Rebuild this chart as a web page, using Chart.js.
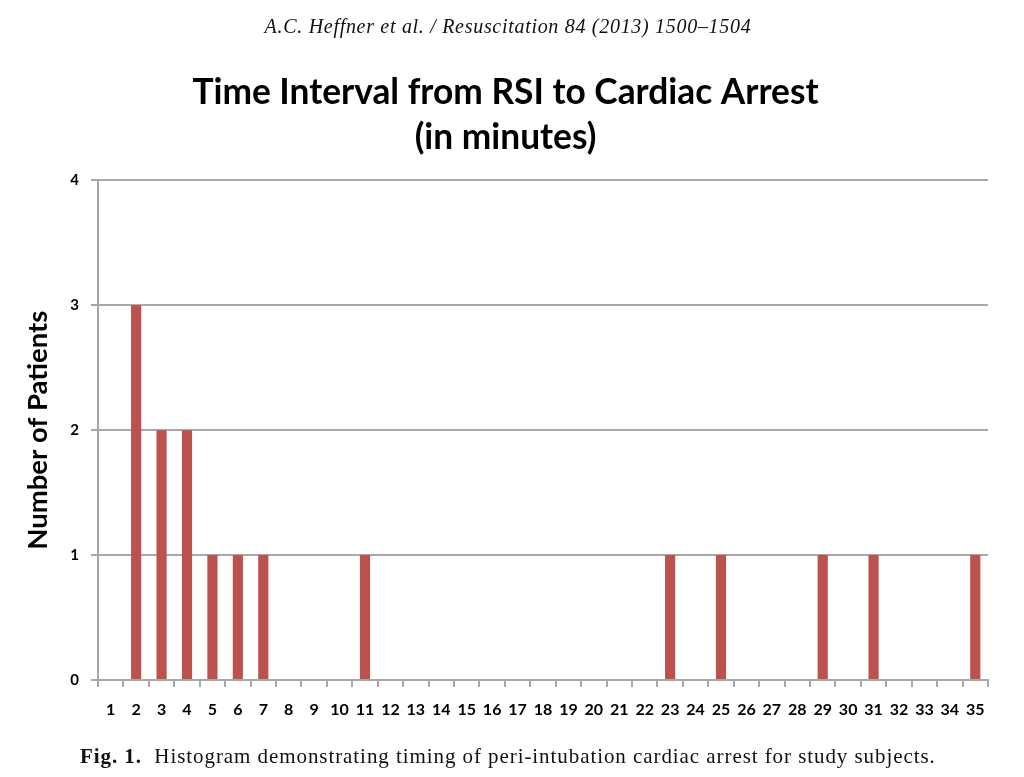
<!DOCTYPE html>
<html>
<head>
<meta charset="utf-8">
<script src="https://cdn.jsdelivr.net/npm/chart.js@4/dist/chart.umd.min.js"></script>
<style>
  body { margin: 0; background: #fff; }
  #wrap { position: relative; width: 1024px; height: 777px; }
  #grafico { position: absolute; left: 0; top: 0; }
  .cabecalho { position: absolute; left: -4px; width: 1024px; text-align: center; top: 15px;
    font-family: "Liberation Serif", serif; font-style: italic; font-size: 20px; letter-spacing: 0.7px; color: #111; }
  .legenda { position: absolute; left: 80px; top: 744px;
    font-family: "Liberation Serif", serif; font-size: 21px; letter-spacing: 0.93px; color: #111; white-space: nowrap; }
</style>
</head>
<body>
<div id="wrap">
  <canvas id="grafico" width="1024" height="777"></canvas>
  <div class="cabecalho">A.C. Heffner et al. / Resuscitation 84 (2013) 1500–1504</div>
  <div class="legenda"><b>Fig. 1.</b>&nbsp; Histogram demonstrating timing of peri-intubation cardiac arrest for study subjects.</div>
</div>
<script>
// minutos (eixo x)
var minutos = ['1', '2', '3', '4', '5', '6', '7', '8', '9', '10', '11', '12', '13', '14', '15', '16', '17', '18',
  '19', '20', '21', '22', '23', '24', '25', '26', '27', '28', '29', '30', '31', '32', '33', '34', '35']

// numero de pacientes por minuto
var pacientes = [0, 3, 2, 2, 1, 1, 1, 0, 0, 0, 1, 0, 0, 0, 0, 0, 0, 0,
  0, 0, 0, 0, 1, 0, 1, 0, 0, 0, 1, 0, 1, 0, 0, 0, 1]

// ticks do eixo y
var ticksY = [0, 1, 2, 3, 4]

var cinza = '#a8a8a8'

const config = {
  type: 'bar',
  data: {
    labels: minutos,
    datasets: [{
      label: 'Number of Patients',
      data: pacientes,
      backgroundColor: '#bb524d',
      categoryPercentage: 1,
      barPercentage: 0.4
    }]
  },
  options: {
    responsive: false,
    animation: false,
    layout: { padding: { left: 0, right: 13, top: 0, bottom: 57 } },
    plugins: {
      legend: { display: false },
      tooltip: { enabled: false },
      title: {
        display: true,
        text: ['Time Interval from RSI to Cardiac Arrest', '(in minutes)'],
        color: '#000',
        font: { family: 'Lato', size: 35.3, weight: 'bold', lineHeight: 1.28 },
        padding: { top: 70, bottom: 20 }
      }
    },
    scales: {
      x: {
        offset: true,
        grid: { drawOnChartArea: false, drawTicks: true, tickLength: 7, color: cinza, lineWidth: 2, offset: true },
        border: { color: cinza, width: 2 },
        ticks: { color: '#000', font: { family: 'Lato', size: 16, weight: 'bold' }, maxRotation: 0, autoSkip: false, padding: 13 },
        afterFit: function (escala) { escala.height = 40 }
      },
      y: {
        min: ticksY[0],
        max: ticksY[ticksY.length - 1],
        afterBuildTicks: function (escala) { escala.ticks = ticksY.map(function (v) { return { value: v } }) },
        grid: { color: cinza, lineWidth: 2, tickLength: 7 },
        border: { color: cinza, width: 2 },
        ticks: { color: '#000', font: { family: 'Lato', size: 15, weight: 'bold' }, padding: 12 },
        title: {
          display: true,
          text: 'Number of Patients',
          color: '#000',
          font: { family: 'Lato', size: 27.5, weight: 'bold', lineHeight: 1.2 },
          padding: { top: 22, bottom: 0 }
        },
        afterFit: function (escala) { escala.width = 98 }
      },
      // eixo vazio so pra deixar margem na direita
      margem: {
        position: 'right',
        grid: { display: false },
        border: { display: false },
        ticks: { display: false },
        afterFit: function (escala) { escala.width = 23 }
      }
    }
  }
}

let myChart = new Chart(document.getElementById('grafico'), config)
</script>
</body>
</html>
